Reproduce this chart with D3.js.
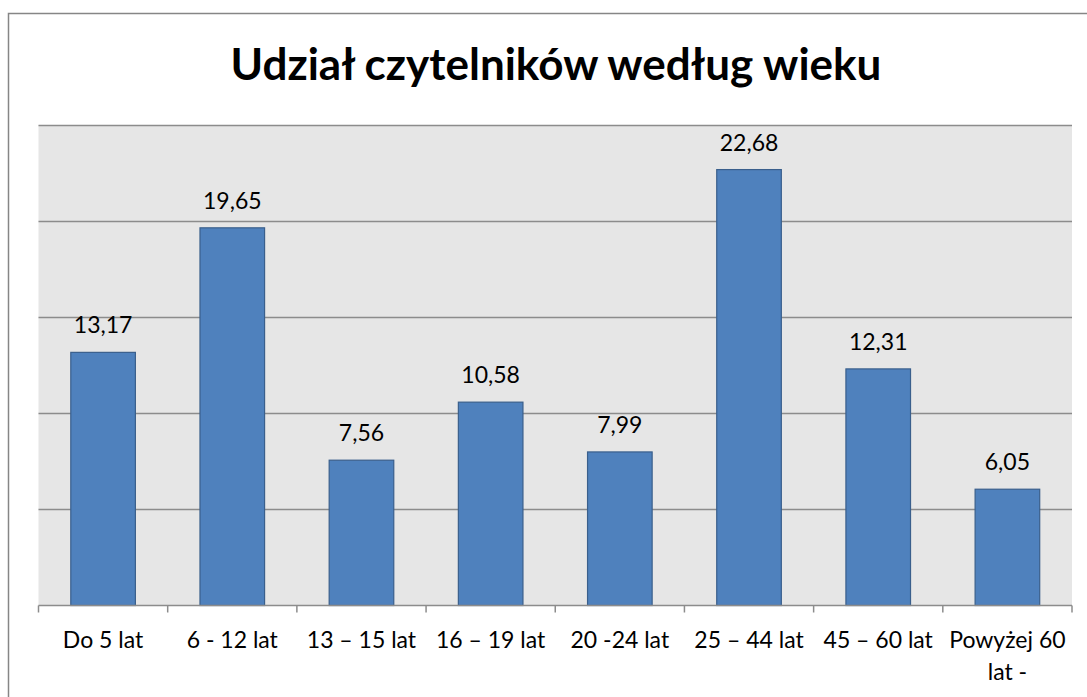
<!DOCTYPE html>
<html><head><meta charset="utf-8">
<script src="https://cdn.jsdelivr.net/npm/d3@7"></script>
<style>body{margin:0;background:#fff}</style>
</head><body>
<svg id="c" width="1087" height="697"></svg>
<script>
const categories = ["Do 5 lat","6 - 12 lat","13 – 15 lat","16 – 19 lat","20 -24 lat","25 – 44 lat","45 – 60 lat","Powyżej 60 lat -"];
const values = [13.17,19.65,7.56,10.58,7.99,22.68,12.31,6.05];
const valueLabels = ["13,17","19,65","7,56","10,58","7,99","22,68","12,31","6,05"];
const yTicks = [0,5,10,15,20,25];
const title = "Udział czytelników według wieku";

const svg = d3.select("#c");
const font = "Lato, 'Open Sans', sans-serif";
const L = 38.5, R = 1072, T = 125, B = 605.5;

svg.append("rect").attr("x",8.5).attr("y",13.5).attr("width",1090).attr("height",700)
  .attr("fill","#fff").attr("stroke","#868686").attr("stroke-width",1.5);

svg.append("rect").attr("x",L).attr("y",T).attr("width",R-L).attr("height",B-T).attr("fill","#E6E6E6");

const x = d3.scaleBand().domain(categories).range([L,R]).paddingInner(0.5).paddingOuter(0.25);
const xt = d3.scaleBand().domain(categories).range([L,R]);
const y = d3.scaleLinear().domain([0,25]).range([B,T]);

svg.append("g").selectAll("line").data(yTicks.slice(1)).join("line")
  .attr("x1",L).attr("x2",R).attr("y1",d=>Math.round(y(d))+0.5).attr("y2",d=>Math.round(y(d))+0.5)
  .attr("stroke","#8C8C8C").attr("stroke-width",1.5);

svg.append("g").selectAll("rect").data(values).join("rect")
  .attr("x",(d,i)=>x(categories[i])).attr("width",x.bandwidth())
  .attr("y",d=>y(d)).attr("height",d=>B-y(d))
  .attr("fill","#4F81BD").attr("stroke","#3A5F8C").attr("stroke-width",1.2);

svg.append("g").selectAll("text").data(values).join("text")
  .attr("x",(d,i)=>x(categories[i])+x.bandwidth()/2).attr("y",d=>y(d)-19)
  .attr("text-anchor","middle").attr("font-family",font).attr("font-size",23).attr("fill","#000")
  .text((d,i)=>valueLabels[i]);

// x axis
const ax = svg.append("g");
ax.append("line").attr("x1",L).attr("x2",R).attr("y1",B).attr("y2",B).attr("stroke","#8C8C8C").attr("stroke-width",1.5);
const tickX = categories.map(c=>xt(c)).concat([R]);
ax.selectAll("line.t").data(tickX).join("line").attr("class","t")
  .attr("x1",d=>d).attr("x2",d=>d).attr("y1",B).attr("y2",B+7).attr("stroke","#8C8C8C").attr("stroke-width",1.5);

categories.forEach((c,i)=>{
  const cx = xt(c)+xt.bandwidth()/2;
  const t = ax.append("text").attr("x",cx).attr("y",648).attr("text-anchor","middle")
    .attr("font-family",font).attr("font-size",23).attr("fill","#000");
  if (c === "Powyżej 60 lat -") {
    t.append("tspan").attr("x",cx).attr("dy",0).text("Powyżej 60");
    t.append("tspan").attr("x",cx).attr("dy",32).text("lat -");
  } else t.text(c);
});

svg.append("text").attr("x",556).attr("y",80).attr("text-anchor","middle")
  .attr("font-family",font).attr("font-weight","bold").attr("font-size",44).attr("fill","#000").text(title);
</script>
</body></html>
